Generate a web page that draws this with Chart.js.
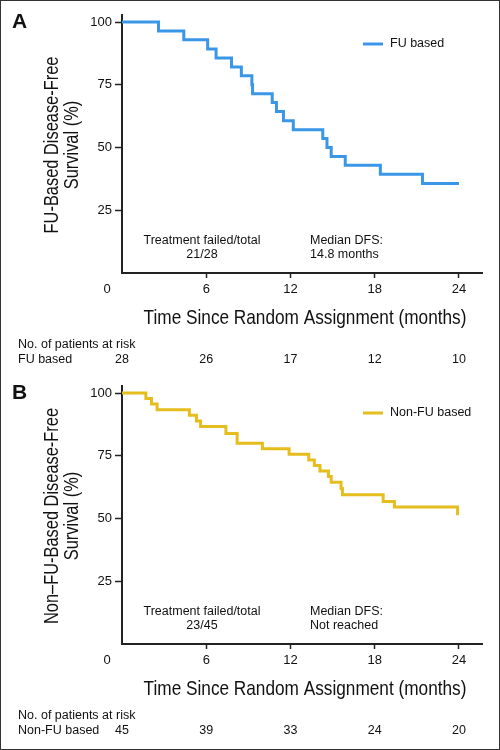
<!DOCTYPE html>
<html>
<head>
<meta charset="utf-8">
<script src="https://cdn.jsdelivr.net/npm/chart.js@4.4.0/dist/chart.umd.min.js"></script>
<style>
body { margin: 0; background: #fff; }
#frame { position: relative; width: 500px; height: 750px; box-sizing: border-box; border: 1px solid #333; overflow: hidden; }
.panel { position: absolute; left: -1px; width: 500px; height: 375px; }
</style>
</head>
<body>
<div id="frame">
  <div class="panel" style="top:-1px"><canvas id="chartA" width="500" height="375"></canvas></div>
  <div class="panel" style="top:370px"><canvas id="chartB" width="500" height="375"></canvas></div>
</div>
<script>
// axis ticks and at-risk time points
var monthTicks = [6, 12, 18, 24];
var survTicks = [25, 50, 75, 100];
var riskTimes = [0, 6, 12, 18, 24];

// A: FU based (months, % disease-free)
var fuTimes = [0, 2.6, 4.4, 6.1, 6.7, 7.8, 8.5, 9.25, 9.3, 10.7, 11.0, 11.5, 12.2, 14.3, 14.6, 14.9, 15.9, 18.4, 21.4, 24.0];
var fuSurv  = [100, 96.4, 92.9, 89.3, 85.7, 82.1, 78.6, 75.0, 71.4, 67.9, 64.3, 60.7, 57.1, 53.6, 50.0, 46.4, 42.9, 39.3, 35.7, 35.7];
var fuAtRisk = [28, 26, 17, 12, 10];

// B: Non-FU based
var nonFuTimes = [0, 1.7, 2.1, 2.5, 4.8, 5.3, 5.6, 7.4, 8.2, 10.0, 11.9, 13.3, 13.7, 14.1, 14.7, 14.9, 15.6, 15.7, 18.6, 19.4, 23.9, 24.0];
var nonFuSurv  = [100, 97.8, 95.6, 93.3, 91.1, 88.9, 86.7, 83.9, 80.0, 77.8, 75.6, 73.3, 71.1, 68.9, 66.7, 64.4, 62.0, 59.5, 56.8, 54.6, 51.9, 51.9];
var nonFuAtRisk = [45, 39, 33, 24, 20];

var xTitle = 'Time Since Random Assignment (months)';
var SANS = '"Liberation Sans", Arial, Helvetica, sans-serif';

// condensed text: squeeze regular sans to ~82% width
function narrowText(c, text, x, y, size) {
  c.font = size + 'px ' + SANS;
  var w = c.measureText(text).width * 0.82;
  c.fillText(text, x, y, w);
}

var extrasPlugin = {
  id: 'extras',
  afterDraw: function(chart, args, opts) {
    var c = chart.ctx, x = chart.scales.x, area = chart.chartArea;
    c.save();
    c.fillStyle = '#111';
    c.textBaseline = 'middle';
    // panel letter
    c.font = 'bold 21px ' + SANS;
    c.textAlign = 'left';
    c.fillText(opts.letter, 12, 22);
    // origin label
    c.font = '13px ' + SANS;
    c.textAlign = 'center';
    c.fillText('0', x.getPixelForValue(0) - 15, area.bottom + 16);
    // x title
    narrowText(c, xTitle, 305, area.bottom + 45, 21);
    // y title (rotated, two lines)
    c.save();
    c.translate(52, (area.top + area.bottom) / 2 + 1);
    c.rotate(-Math.PI / 2);
    narrowText(c, opts.yTitle[0], 0, 0, 20);
    narrowText(c, opts.yTitle[1], 0, 20, 20);
    c.restore();
    // legend
    c.strokeStyle = opts.color;
    c.lineWidth = 3;
    c.beginPath(); c.moveTo(363, opts.legendY); c.lineTo(383, opts.legendY); c.stroke();
    c.font = '12.5px ' + SANS;
    c.textAlign = 'left';
    c.fillText(opts.legend, 390, opts.legendY);
    // annotations
    c.textAlign = 'center';
    c.fillText('Treatment failed/total', 202, area.bottom - 32);
    c.fillText(opts.failed, 202, area.bottom - 18);
    c.textAlign = 'left';
    c.fillText('Median DFS:', 310, area.bottom - 32);
    c.fillText(opts.median, 310, area.bottom - 18);
    // at-risk table
    c.fillText('No. of patients at risk', 18, area.bottom + 72);
    c.fillText(opts.group, 18, area.bottom + 87);
    c.textAlign = 'center';
    riskTimes.forEach(function(t, i) {
      c.fillText(String(opts.atRisk[i]), x.getPixelForValue(t), area.bottom + 87);
    });
    c.restore();
  }
};

function makePoints(times, surv) {
  return times.map(function(t, i) { return {x: t, y: surv[i]}; });
}

function createChart(id, times, surv, color, extras) {
  var ctx = document.getElementById(id).getContext('2d');
  return new Chart(ctx, {
    type: 'line',
    data: {
      datasets: [{
        label: extras.legend,
        data: makePoints(times, surv),
        borderColor: color,
        backgroundColor: color,
        borderWidth: 3,
        pointRadius: 0,
        stepped: true,
        fill: false
      }]
    },
    options: {
      responsive: false,
      animation: false,
      layout: { padding: { top: 15, right: 18, left: 0, bottom: 0 } },
      plugins: {
        legend: { display: false },
        tooltip: { enabled: false },
        extras: extras
      },
      scales: {
        x: {
          type: 'linear', min: 0, max: 25.64,
          afterBuildTicks: function(s) { s.ticks = monthTicks.map(function(v) { return {value: v}; }); },
          afterFit: function(s) { s.height = 102; },
          grid: { drawOnChartArea: false, drawTicks: true, tickLength: 5, tickColor: '#222', tickWidth: 1.5 },
          border: { color: '#222', width: 2 },
          ticks: { color: '#111', font: { family: SANS, size: 13 }, padding: 4, maxRotation: 0 }
        },
        y: {
          min: 0, max: 102.8,
          afterBuildTicks: function(s) { s.ticks = survTicks.map(function(v) { return {value: v}; }); },
          afterFit: function(s) { s.width = 122; },
          grid: { drawOnChartArea: false, drawTicks: true, tickLength: 7, tickColor: '#222', tickWidth: 1.5 },
          border: { color: '#222', width: 2 },
          ticks: { color: '#111', font: { family: SANS, size: 13 }, padding: 3 }
        }
      }
    },
    plugins: [extrasPlugin]
  });
}

createChart('chartA', fuTimes, fuSurv, '#3a97e8', {
  letter: 'A', legend: 'FU based', legendY: 44, color: '#3a97e8',
  yTitle: ['FU-Based Disease-Free', 'Survival (%)'],
  failed: '21/28', median: '14.8 months', group: 'FU based', atRisk: fuAtRisk
});
createChart('chartB', nonFuTimes, nonFuSurv, '#e5bd1c', {
  letter: 'B', legend: 'Non-FU based', legendY: 42, color: '#e5bd1c',
  yTitle: ['Non\u2013FU-Based Disease-Free', 'Survival (%)'],
  failed: '23/45', median: 'Not reached', group: 'Non-FU based', atRisk: nonFuAtRisk
});
</script>
</body>
</html>
